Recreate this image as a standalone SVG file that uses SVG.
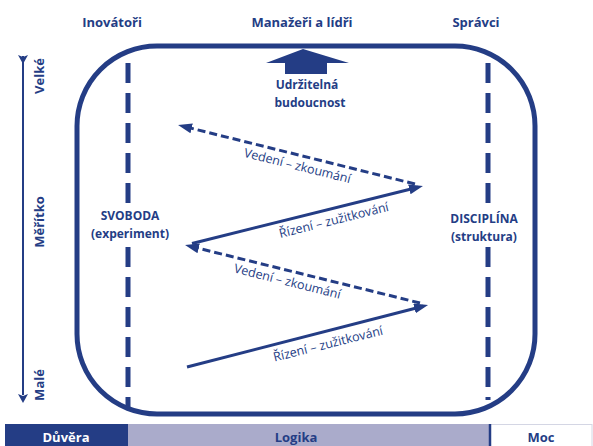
<svg xmlns="http://www.w3.org/2000/svg" width="593" height="446" viewBox="0 0 593 446">
<defs>
<style>
.bl{fill:#243d85}
.hdr{font-family:"Open Sans","Liberation Sans",sans-serif;font-weight:bold;font-size:13px;fill:#243d85;text-anchor:middle}
.lbl{font-family:"Open Sans","Liberation Sans",sans-serif;font-size:12.5px;fill:#243d85;text-anchor:middle}
.vd{stroke:#243d85;stroke-width:5;stroke-dasharray:20 10;fill:none}
.sol{stroke:#243d85;stroke-width:3;fill:none;marker-end:url(#ah)}
.dsh{stroke:#243d85;stroke-width:3;fill:none;stroke-dasharray:8 4;marker-end:url(#ah)}
</style>
<marker id="ah" markerUnits="userSpaceOnUse" markerWidth="16" markerHeight="12" refX="9" refY="5" orient="auto">
<path d="M0,0 L14,5 L0,10 z" fill="#243d85"/>
</marker>
<marker id="axh" markerUnits="userSpaceOnUse" markerWidth="12" markerHeight="12" refX="1" refY="5" orient="auto">
<path d="M0,0 L9,5 L0,10 L2,5 z" fill="#243d85"/>
</marker>
</defs>
<rect width="593" height="446" fill="#ffffff"/>

<g id="frame">
<rect x="77" y="46" width="458" height="368" rx="80" ry="80" fill="none" stroke="#243d85" stroke-width="5"/>
</g>

<g id="headers">
<text class="hdr" x="112" y="27">Inovátoři</text>
<text class="hdr" x="302" y="27">Manažeři a lídři</text>
<text class="hdr" x="476" y="27">Správci</text>
</g>

<g id="axis">
<line x1="23" y1="56" x2="23" y2="395" stroke="#243d85" stroke-width="2" marker-start="url(#axh)" marker-end="url(#axh)"/>
<text class="hdr" transform="translate(44,76) rotate(-90)">Velké</text>
<text class="hdr" transform="translate(44,222) rotate(-90)">Měřítko</text>
<text class="hdr" transform="translate(44,385) rotate(-90)">Malé</text>
</g>

<g id="svoboda">
<path class="vd" d="M128,63 V203 M128,247 V407"/>
<text class="hdr" x="130" y="220" style="font-size:12px">SVOBODA</text>
<text class="hdr" x="130" y="238" style="font-size:12px">(experiment)</text>
</g>

<g id="disciplina">
<path class="vd" d="M488,63 V203 M488,247 V400"/>
<text class="hdr" x="484" y="223" style="font-size:12px">DISCIPLÍNA</text>
<text class="hdr" x="484" y="241" style="font-size:12px">(struktura)</text>
</g>

<g id="budoucnost">
<polygon class="bl" points="266,63 303,49 349,63 327,63 327,74 285,74 285,63"/>
<text class="hdr" x="307" y="89" style="font-size:12px">Udržitelná</text>
<text class="hdr" x="310" y="107" style="font-size:12px">budoucnost</text>
</g>

<g id="connectors">
<line class="sol" x1="187" y1="367" x2="423.2" y2="306.2"/>
<line class="dsh" x1="420" y1="303" x2="189.9" y2="246.2"/>
<line class="sol" x1="192" y1="243.5" x2="418.1" y2="187.2"/>
<line class="dsh" x1="415" y1="184" x2="182.9" y2="126.2"/>
<text class="lbl" transform="translate(300,155.4) rotate(14)" y="15">Vedení – zkoumání</text>
<text class="lbl" transform="translate(331,208.8) rotate(-14)" y="16">Řízení – zužitkování</text>
<text class="lbl" transform="translate(290,271) rotate(14)" y="15">Vedení – zkoumání</text>
<text class="lbl" transform="translate(325,331.5) rotate(-14)" y="17">Řízení – zužitkování</text>
</g>

<g id="bar">
<rect x="5" y="424" width="123" height="22" fill="#243d85"/>
<rect x="128" y="424" width="361" height="22" fill="#aaabcb"/>
<rect x="490" y="424.5" width="102" height="22" fill="#ffffff" stroke="#d4d6e4" stroke-width="1"/>
<line x1="490" y1="424" x2="490" y2="446" stroke="#243d85" stroke-width="2.5"/>
<text class="hdr" x="66" y="442" style="fill:#ffffff">Důvěra</text>
<text class="hdr" x="296" y="442">Logika</text>
<text class="hdr" x="541" y="442">Moc</text>
</g>
</svg>
